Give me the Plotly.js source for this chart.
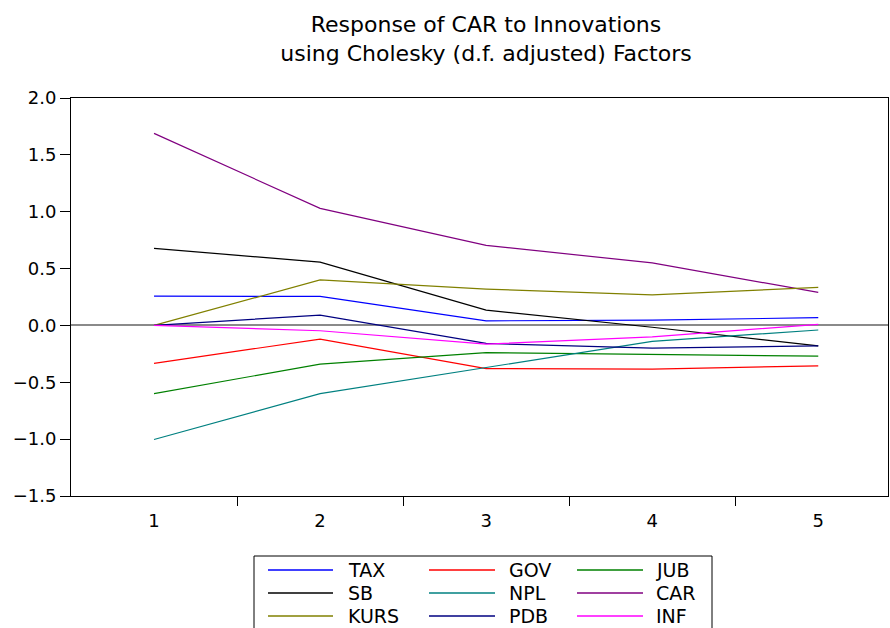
<!DOCTYPE html>
<html>
<head>
<meta charset="utf-8">
<script src="https://cdn.plot.ly/plotly-3.0.1.min.js"></script>
<style>
html,body{margin:0;padding:0;background:#fff;}
#chart{width:890px;height:628px;}
</style>
</head>
<body>
<div id="chart"></div>
<script>
// ---- data ----
const periods = [1, 2, 3, 4, 5];
const periodLabels = ['1', '2', '3', '4', '5'];
const TAX  = [0.258, 0.255, 0.040, 0.047, 0.068];
const GOV  = [-0.334, -0.120, -0.380, -0.385, -0.355];
const JUB  = [-0.600, -0.340, -0.240, -0.255, -0.270];
const SB   = [0.677, 0.557, 0.135, -0.016, -0.180];
const NPL  = [-1.003, -0.600, -0.370, -0.140, -0.040];
const CAR  = [1.689, 1.029, 0.704, 0.550, 0.290];
const KURS = [0.000, 0.400, 0.320, 0.268, 0.335];
const PDB  = [0.000, 0.091, -0.158, -0.200, -0.180];
const INF  = [0.000, -0.047, -0.165, -0.100, 0.010];
const yTicks = [-1.5, -1.0, -0.5, 0.0, 0.5, 1.0, 1.5, 2.0];

const seriesNames = ['TAX', 'GOV', 'JUB', 'SB', 'NPL', 'CAR', 'KURS', 'PDB', 'INF'];
const seriesValues = [TAX, GOV, JUB, SB, NPL, CAR, KURS, PDB, INF];
const seriesColors = ['#0000ff', '#ff0000', '#008000', '#000000', '#008080', '#800080', '#808000', '#000080', '#ff00ff'];

// ---- geometry (pixels) ----
const W = 890, H = 628;
const L = 71, R = 2, T = 98, B = 132;
const PW = W - L - R, PH = H - T - B;
const px2x = p => (p - L) / PW;
const py2y = p => (T + PH - p) / PH;

const FONT = 'DejaVu Sans, Arial, sans-serif';

const traces = seriesNames.map((n, i) => ({
  type: 'scatter', mode: 'lines', name: n,
  x: periods, y: seriesValues[i],
  line: {color: seriesColors[i], width: 1.2},
  showlegend: false, hoverinfo: 'skip'
}));

// custom legend box (3 columns x 3 rows, row-major order)
const rowY = [570, 593, 616];
const colSample = [[268, 333], [429, 495], [577, 643]];
const colText = [346, 507, 654];
const shapes = [{
  type: 'rect', xref: 'paper', yref: 'paper',
  x0: px2x(254), x1: px2x(712), y0: py2y(556), y1: py2y(660),
  line: {color: '#000000', width: 1}, fillcolor: 'rgba(0,0,0,0)'
}];
const annotations = [];
seriesNames.forEach((n, i) => {
  const r = Math.floor(i / 3), c = i % 3;
  shapes.push({
    type: 'line', xref: 'paper', yref: 'paper',
    x0: px2x(colSample[c][0]), x1: px2x(colSample[c][1]),
    y0: py2y(rowY[r]), y1: py2y(rowY[r]),
    line: {color: seriesColors[i], width: 1.5}
  });
  annotations.push({
    xref: 'paper', yref: 'paper', x: px2x(colText[c]), y: py2y(rowY[r]),
    xanchor: 'left', yanchor: 'middle', showarrow: false, text: n,
    font: {family: FONT, size: 19, color: '#000'}
  });
});

const layout = {
  width: W, height: H,
  margin: {l: L, r: R, t: T, b: B, pad: 0},
  paper_bgcolor: '#ffffff', plot_bgcolor: '#ffffff',
  font: {family: FONT, color: '#000000'},
  title: {
    text: 'Response of CAR to Innovations<br>using Cholesky (d.f. adjusted) Factors',
    font: {family: FONT, size: 22, color: '#000'},
    x: 486 / W, xanchor: 'center', xref: 'container',
    y: 1 - 32 / H, yanchor: 'top', yref: 'container'
  },
  xaxis: {
    range: [0.5, 5.42], showgrid: false, zeroline: false,
    showline: true, linecolor: '#000', linewidth: 1, mirror: true,
    tickmode: 'array', tickvals: periods, ticktext: periodLabels,
    ticks: '', tickfont: {family: FONT, size: 18, color: '#000'},
    minor: {tickmode: 'array', tickvals: [1.5, 2.5, 3.5, 4.5], ticks: 'outside', ticklen: 9, tickcolor: '#000', tickwidth: 1, showgrid: false},
    ticklabelstandoff: 8
  },
  yaxis: {
    range: [-1.5, 2.0], showgrid: false,
    zeroline: true, zerolinecolor: '#8a8a8a', zerolinewidth: 2,
    showline: true, linecolor: '#000', linewidth: 1, mirror: true,
    tickmode: 'array', tickvals: yTicks, tickformat: '.1f',
    ticks: 'outside', ticklen: 10, tickcolor: '#000', tickwidth: 1,
    tickfont: {family: FONT, size: 18, color: '#000'}
  },
  shapes: shapes,
  annotations: annotations,
  showlegend: false
};

Plotly.newPlot('chart', traces, layout, {displayModeBar: false, staticPlot: true});
</script>
</body>
</html>
